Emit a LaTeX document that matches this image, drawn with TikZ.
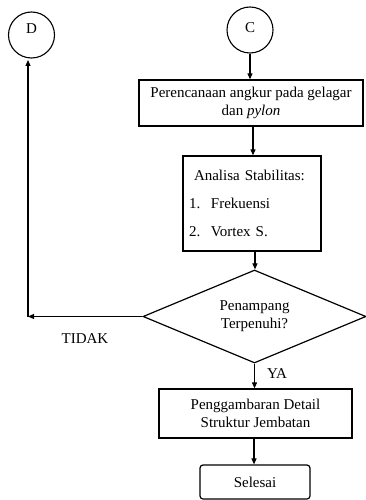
\documentclass[tikz,border=0pt]{standalone}
\usepackage{fontspec}
\setmainfont{Liberation Serif}
\usetikzlibrary{shapes.geometric,arrows.meta}
\begin{document}
\begin{tikzpicture}[x=1pt,y=-1pt,
  every node/.style={font=\fontsize{15}{18}\selectfont},
  conn/.style={draw, circle, line width=1.1pt, minimum size=46pt, inner sep=0pt},
  procbox/.style={draw, rectangle, line width=1.3pt, inner sep=0pt, align=center},
  decbox/.style={draw, diamond, line width=1.2pt, inner sep=0pt, aspect=2.4, align=center},
  endbox/.style={draw, rectangle, rounded corners=3pt, line width=1.2pt, inner sep=0pt},
  arr/.style={line width=1.1pt, -{Triangle[length=6pt,width=5pt]}},
  plain/.style={line width=1.1pt}
]
\useasboundingbox (0,0) rectangle (366,500);
\node[conn, label={[yshift=6pt]center:D}] (D) at (31.5,35) {};
\node[conn, label={[yshift=2pt]center:C}] (C) at (250,30) {};
\node[procbox, minimum width=224pt, minimum height=46pt] (b1) at (251,103)
  {Perencanaan angkur pada gelagar\\dan \textit{pylon}};
\node[procbox, minimum width=138pt, minimum height=95pt, text width=126pt, align=left] (b2) at (252,203.5)
  {\hspace*{5pt}Analisa Stabilitas:\\[10pt]\makebox[22pt][l]{1.}Frekuensi\\[10pt]\makebox[22pt][l]{2.}Vortex S.};
\node[decbox, minimum width=223pt, minimum height=93pt] (dia) at (254.5,316.5)
  {Penampang\\Terpenuhi?};
\node[procbox, minimum width=193pt, minimum height=49pt] (b3) at (255.5,413.5)
  {Penggambaran Detail\\Struktur Jembatan};
\node[endbox, minimum width=110pt, minimum height=34pt] (sel) at (255,482) {Selesai};
\node (tidak) at (85,339) {TIDAK};
\node (ya) at (277,374) {YA};
\coordinate (corner) at (28,316.5);
\coordinate (dtip) at (28,60);
\draw[arr] (C.south) -- (C.south |- b1.north);
\draw[arr] (b1.south -| 253,0) -- (253,0 |- b2.north);
\draw[arr] (b2.south -| 255,0) -- (255,0 |- dia.north);
\draw[arr] (dia.south) -- (dia.south |- b3.north);
\draw[arr] (b3.south -| 254,0) -- (254,0 |- sel.north);
\draw[arr] (dia.west) -- (corner);
\draw[arr] (corner) -- (dtip);
\end{tikzpicture}
\end{document}
